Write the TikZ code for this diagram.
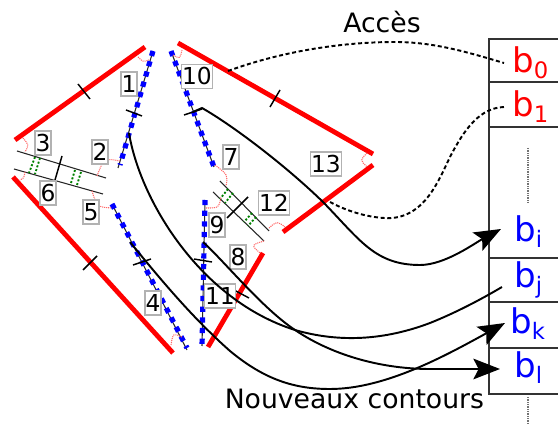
\documentclass[tikz,border=0pt]{standalone}
\usepackage{fontspec}
\setmainfont{DejaVu Sans}
\usetikzlibrary{arrows.meta}
\newcommand\bsub[1]{b\raisebox{-4.5pt}{\fontsize{17}{17}\selectfont #1}}
\tikzset{
  redseg/.style={draw=red,line width=3.6pt},
  thin line/.style={draw=black!85,line width=0.8pt},
  tick/.style={draw=black,line width=1.1pt},
  bluedots/.style={draw=blue,line width=3.9pt,dash pattern=on 3.9pt off 4.1pt},
  greendots/.style={draw=green!50!black,line width=1.4pt,dash pattern=on 1.5pt off 1.4pt},
  angmark/.style={draw=red!60,line width=0.8pt,dash pattern=on 0.8pt off 0.7pt},
  curve/.style={draw=black,line width=1.45pt},
  dashcurve/.style={draw=black,line width=1.45pt,dash pattern=on 3pt off 2pt},
  bigarrow/.style={curve,-{Stealth[length=20pt,width=15.5pt,inset=4pt]}},
  numbox/.style={draw=black!30,fill=white,line width=0.9pt,inner sep=0.4pt,minimum width=12pt,minimum height=18pt,font=\fontsize{17.5}{17.5}\selectfont},
  cell/.style={anchor=base west,inner sep=0pt,font=\fontsize{25.5}{26}\selectfont},
  caption/.style={anchor=base west,inner sep=0pt,font=\fontsize{20}{22}\selectfont},
  table line/.style={draw=black!80,line width=1pt},
  gapdots/.style={draw=black!55,line width=0.8pt,dash pattern=on 0.6pt off 0.7pt},
}
\begin{document}
\begin{tikzpicture}[x=0.75pt,y=-0.75pt]
\useasboundingbox (0,0) rectangle (558,424);
% table
\draw[table line] (558,39) -- (489,39) -- (489,394) -- (558,394);
\foreach \yy in {82,127,258,302,348} \draw[table line] (489,\yy) -- (558,\yy);
\draw[gapdots] (528,148) -- (528,203);
\draw[gapdots] (528,397) -- (528,424);
% red segments
\draw[redseg] (15,140) -- (145,47);
\draw[redseg] (13,177) -- (173,353);
\draw[redseg] (178,43) -- (373,154);
\draw[redseg] (373,165) -- (283,232);
\draw[redseg] (263,253) -- (208,347);
% thin lines below dots
\draw[thin line] (153,51) -- (118,168);
\draw[thin line] (171,51) -- (214,167);
\draw[thin line] (112,204) -- (187,350);
\draw[thin line] (205,200) -- (202,346);
\draw[bluedots] (153,51) -- (120,165);
\draw[bluedots] (171,51) -- (214,167);
\draw[bluedots] (112,204) -- (187,348);
\draw[bluedots] (205,200) -- (202,347);
% double lines
\draw[thin line] (17,151) -- (106,178);
\draw[thin line] (14,169) -- (103,194);
\draw[thin line] (220,181) -- (269,231);
\draw[thin line] (213,192) -- (264,241);
\draw[greendots] (35,157) -- (29,173);
\draw[greendots] (40,158) -- (35,174);
\draw[greendots] (75,170) -- (71,183);
\draw[greendots] (81,172) -- (77,185);
\draw[greendots] (228,189) -- (220,199);
\draw[greendots] (233,193) -- (225,203);
\draw[greendots] (252,213) -- (244,222);
\draw[greendots] (256,217) -- (248,226);
% ticks
\draw[tick] (78,84) -- (90,99);
\draw[tick] (280,90) -- (270,107);
\draw[tick] (97,256) -- (83,270);
\draw[tick] (126,110) -- (142,116);
\draw[tick] (184,115) -- (202,109);
\draw[tick] (133,265) -- (151,259);
\draw[tick] (194,259) -- (212,262);
\draw[tick] (234,290) -- (249,298);
\draw[tick] (62,156) -- (55,180);
\draw[tick] (248,197) -- (227,218);
% angle marks
\draw[angmark] (23,138) .. controls (29,145) .. (25,152);
\draw[angmark] (25,172) .. controls (24,178) .. (20,180);
\draw[angmark] (97,176) .. controls (104,158) .. (120,161);
\draw[angmark] (92,191) .. controls (97,207) .. (112,208);
\draw[angmark] (138,57) .. controls (143,62) .. (149,60);
\draw[angmark] (173,55) .. controls (180,59) .. (182,50);
\draw[angmark] (215,165) .. controls (228,175) .. (226,186);
\draw[angmark] (206,208) .. controls (219,208) .. (221,197);
\draw[angmark] (269,228) .. controls (277,221) .. (285,227);
\draw[angmark] (264,241) .. controls (251,245) .. (260,253);
\draw[angmark] (367,153) .. controls (360,160) .. (367,167);
\draw[angmark] (171,345) .. controls (173,333) .. (182,337);
% labels
\node[numbox] (n1) at (129,84) {1};
\node[numbox] (n2) at (100,152) {2};
\node[numbox] (n3) at (43,143) {3};
\node[numbox] (n4) at (153,303) {4};
\node[numbox] (n5) at (91,212) {5};
\node[numbox] (n6) at (48,193) {6};
\node[numbox] (n7) at (231,157) {7};
\node[numbox] (n8) at (238,257) {8};
\node[numbox] (n9) at (217,225) {9};
\node[numbox] (n10) at (197,76.5) {10};
\node[numbox] (n11) at (220,296) {11};
\node[numbox] (n12) at (274,203) {12};
\node[numbox] (n13) at (326,164) {13};
% cell texts
\node[cell,text=red] (b0) at (512,73) {\bsub{0}};
\node[cell,text=red] (b1) at (512,117) {\bsub{1}};
\node[cell,text=blue] (bi) at (514,242) {\bsub{i}};
\node[cell,text=blue] (bj) at (514,288) {\bsub{j}};
\node[cell,text=blue] (bk) at (510,334) {\bsub{k}};
\node[cell,text=blue] (bl) at (514,378) {\bsub{l}};
\node[caption] (acces) at (343,33) {Accès};
\node[caption] (contours) at (224.5,409) {Nouveaux contours};
% connector ends
\coordinate (c0s) at (228,71);
\coordinate (c0e) at (504,63);
\coordinate (c1s) at (330,202);
\coordinate (c1e) at (504,107);
\coordinate (c10) at (193,112);
\coordinate (ci) at (501,229);
\coordinate (c2) at (129,133);
\coordinate (cj) at (502,287);
\coordinate (c9) at (203,242);
\coordinate (cl) at (500,369);
\coordinate (c4) at (130,242);
\coordinate (ck) at (505,323);
% connectors
\draw[dashcurve] (c0s) .. controls (280,52) and (340,42) .. (395,42) .. controls (435,42) and (470,53) .. (c0e);
\draw[dashcurve] (c1s) .. controls (350,213) and (375,219) .. (392,218) .. controls (425,215) and (438,182) .. (450,157) .. controls (465,128) and (480,108) .. (c1e);
\draw[bigarrow] (c10) -- (202,108) .. controls (232,125) and (285,165) .. (323,202) .. controls (360,240) and (375,265) .. (420,265) .. controls (445,265) and (475,243) .. (ci);
\draw[curve] (c2) .. controls (140,200) and (200,300) .. (295,330) .. controls (340,343) and (385,340) .. (430,323) .. controls (455,313) and (480,300) .. (cj);
\draw[bigarrow] (c9) .. controls (225,262) and (262,308) .. (295,330) .. controls (335,357) and (385,369) .. (430,369) -- (cl);
\draw[bigarrow] (c4) .. controls (165,285) and (195,320) .. (230,351) .. controls (265,380) and (295,389) .. (330,389) .. controls (385,389) and (445,356) .. (ck);
\end{tikzpicture}
\end{document}
